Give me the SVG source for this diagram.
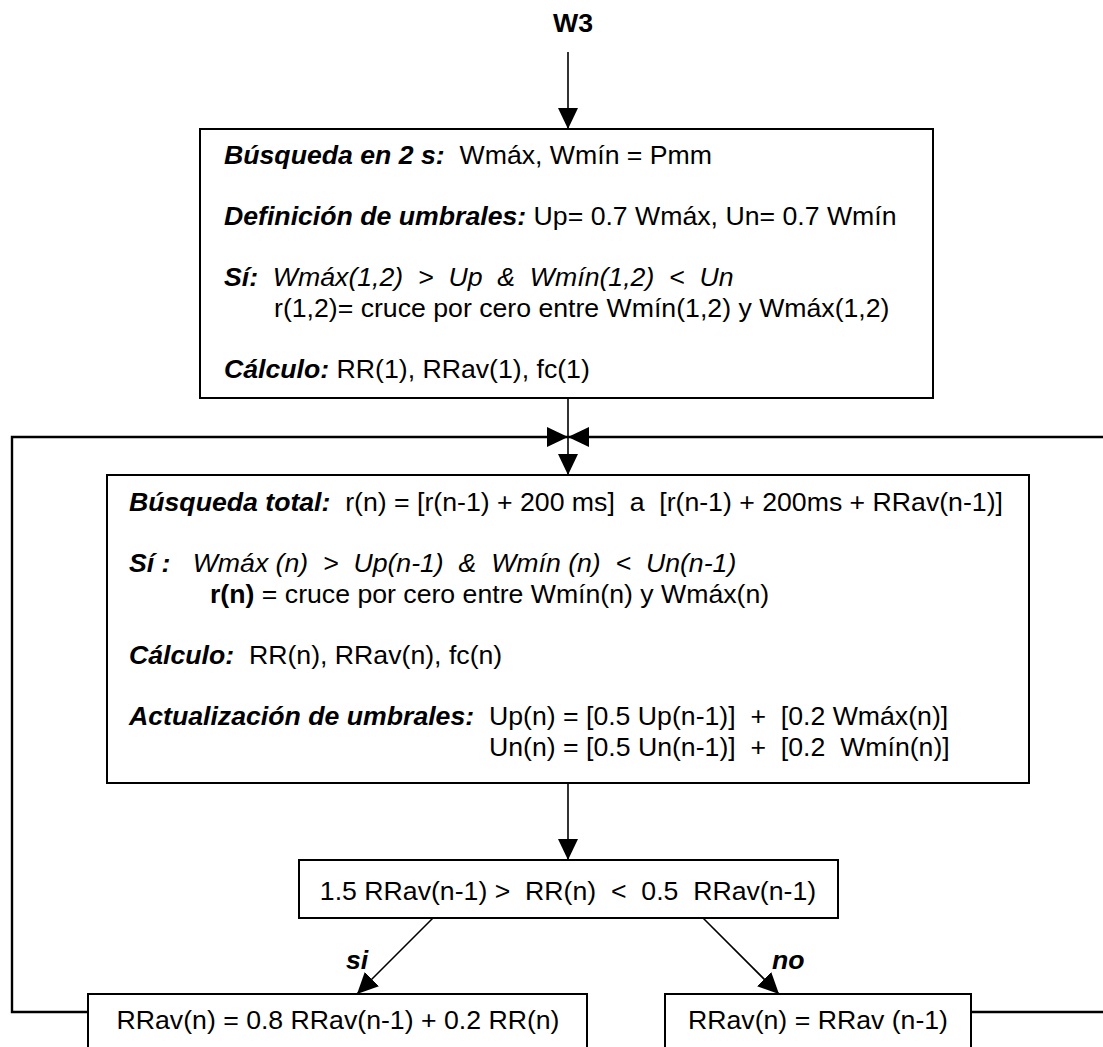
<svg xmlns="http://www.w3.org/2000/svg" width="1103" height="1047" viewBox="0 0 1103 1047">
<style>
text{font-family:"Liberation Sans",Arial,sans-serif;font-size:26.67px;fill:#000;white-space:pre}
.b{font-weight:bold}
.bi{font-weight:bold;font-style:italic}
.i{font-style:italic}
.box{fill:#fff;stroke:#000;stroke-width:2}
.c{fill:none;stroke:#000;stroke-width:1.6}
.loop{fill:none;stroke:#000;stroke-width:2.4}
</style>
<defs>
<marker id="ah" markerUnits="userSpaceOnUse" markerWidth="21" markerHeight="20" refX="21" refY="10" orient="auto" viewBox="0 0 21 20"><path d="M0,0 L21,10 L0,20 z" fill="#000"/></marker>
</defs>
<rect x="0" y="0" width="1103" height="1047" fill="#fff"/>
<g id="connectors">
<path class="c" d="M568,52 V129" marker-end="url(#ah)"/>
<path class="c" d="M568,398 V475" marker-end="url(#ah)"/>
<path class="loop" d="M88,1012 H12 V437 H568" marker-end="url(#ah)"/>
<path class="loop" d="M971,1012 H1106 V437 H568" marker-end="url(#ah)"/>
<path class="c" d="M568,783 V860" marker-end="url(#ah)"/>
<path class="c" d="M433,918 L357,994" marker-end="url(#ah)"/>
<path class="c" d="M703,918 L779,994" marker-end="url(#ah)"/>
<text class="bi" x="346" y="969">si</text>
<text class="bi" x="772" y="969">no</text>
</g>
<g id="w3"><text class="b" x="553" y="32">W3</text></g>
<g id="box1">
<rect class="box" x="200" y="129" width="733" height="269"/>
<text x="224" y="164"><tspan class="bi">Búsqueda en 2 s:</tspan>  Wmáx, Wmín = Pmm</text>
<text x="224" y="225"><tspan class="bi">Definición de umbrales:</tspan> Up= 0.7 Wmáx, Un= 0.7 Wmín</text>
<text x="224" y="286"><tspan class="bi">Sí:</tspan><tspan class="i">  Wmáx(1,2)  &gt;  Up  &amp;  Wmín(1,2)  &lt;  Un</tspan></text>
<text x="274" y="317">r(1,2)= cruce por cero entre Wmín(1,2) y Wmáx(1,2)</text>
<text x="224" y="378"><tspan class="bi">Cálculo:</tspan> RR(1), RRav(1), fc(1)</text>
</g>
<g id="box2">
<rect class="box" x="107" y="475" width="922" height="308"/>
<text x="129" y="511"><tspan class="bi">Búsqueda total:</tspan>  r(n) = [r(n-1) + 200 ms]  a  [r(n-1) + 200ms + RRav(n-1)]</text>
<text x="129" y="572"><tspan class="bi">Sí :</tspan><tspan class="i">   Wmáx (n)  &gt;  Up(n-1)  &amp;  Wmín (n)  &lt;  Un(n-1)</tspan></text>
<text x="210" y="603"><tspan class="b">r(n)</tspan> = cruce por cero entre Wmín(n) y Wmáx(n)</text>
<text x="129" y="664"><tspan class="bi">Cálculo:</tspan>  RR(n), RRav(n), fc(n)</text>
<text x="129" y="725"><tspan class="bi">Actualización de umbrales:</tspan>  Up(n) = [0.5 Up(n-1)]  +  [0.2 Wmáx(n)]</text>
<text x="489" y="756">Un(n) = [0.5 Un(n-1)]  +  [0.2  Wmín(n)]</text>
</g>
<g id="decision">
<rect class="box" x="299" y="860" width="539" height="58"/>
<text x="568" y="900" text-anchor="middle">1.5 RRav(n-1) &gt;  RR(n)  &lt;  0.5  RRav(n-1)</text>
</g>
<g id="box-si">
<rect class="box" x="88" y="994" width="499" height="70"/>
<text x="338" y="1029" text-anchor="middle">RRav(n) = 0.8 RRav(n-1) + 0.2 RR(n)</text>
</g>
<g id="box-no">
<rect class="box" x="665" y="994" width="306" height="70"/>
<text x="818" y="1029" text-anchor="middle">RRav(n) = RRav (n-1)</text>
</g>
</svg>
